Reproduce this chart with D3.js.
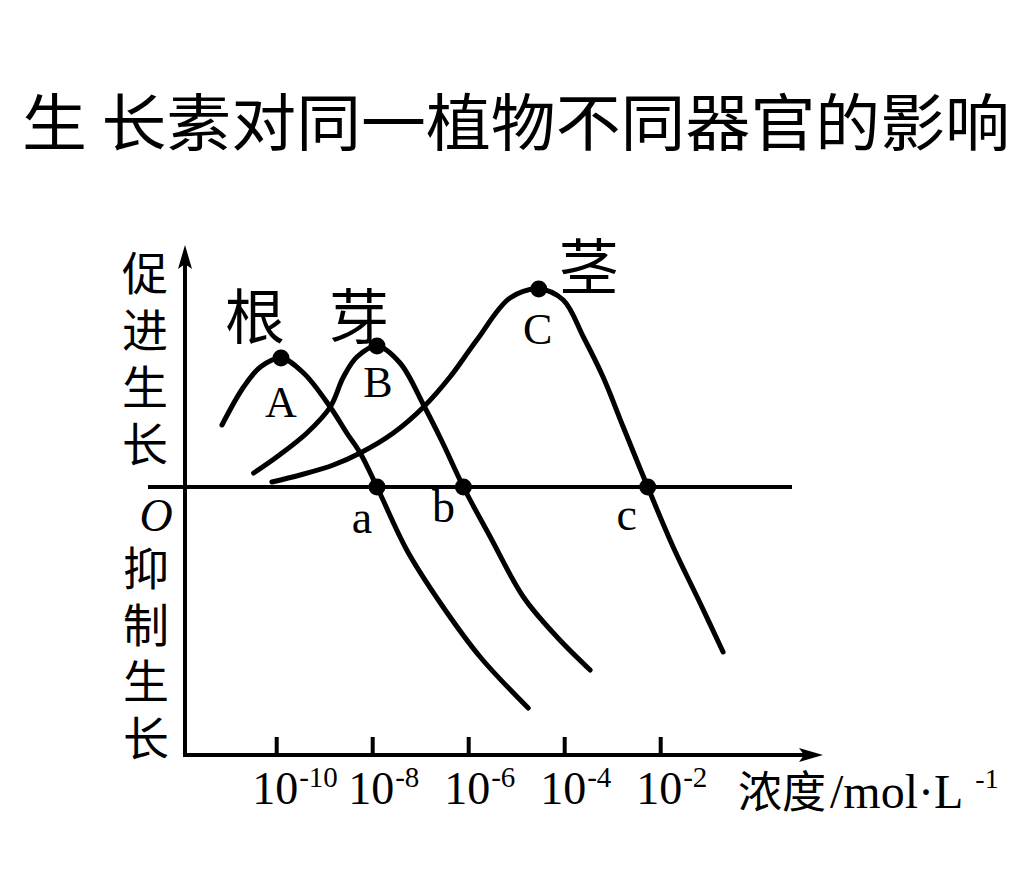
<!DOCTYPE html>
<html><head><meta charset="utf-8">
<script src="https://cdn.jsdelivr.net/npm/d3@7"></script>
<style>
html,body{margin:0;padding:0;background:#fff;}
svg{display:block;}
</style></head>
<body>
<svg id="chart" width="1033" height="892"></svg>
<script>
// ---- data (x = log10 concentration, y = relative effect on growth) ----
const title = "生 长素对同一植物不同器官的影响";
const organs = ["根", "芽", "茎"];
const peakLabels = ["A", "B", "C"];
const zeroLabels = ["a", "b", "c"];
const yLabelTop = ["促", "进", "生", "长"];
const yLabelBottom = ["抑", "制", "生", "长"];
const tickExponents = [-10, -8, -6, -4, -2];
const tickBase = "10";
const xAxisLabel = "浓度";
const xAxisUnit = "/mol·L";
const xAxisUnitExp = "-1";
const originLabel = "O";

const rootX = [-11.13, -10.68, -10.33, -9.90, -9.43, -8.875, -8.53, -8.25, -7.90, -7.28, -6.58, -5.75, -4.75];
const rootY = [62, 100, 120, 129, 114, 80, 54, 34, 0, -63, -116, -170, -221];
const budX = [-10.47, -9.99, -9.36, -8.875, -8.60, -8.32, -7.90, -7.42, -6.93, -6.55, -6.10, -5.54, -4.85, -4.15, -3.46];
const budY = [14, 30, 54, 80, 110, 130, 141, 124, 82, 46, 0, -50, -110, -150, -183];
const stemX = [-10.09, -9.50, -8.81, -8.25, -7.56, -6.93, -6.38, -5.82, -5.13, -4.53, -4.02, -3.60, -3.19, -2.77, -2.26, -1.73, -1.17, -0.69];
const stemY = [5, 12, 22, 34, 54, 80, 110, 147, 189, 198, 187, 150, 110, 60, 0, -60, -116, -165];
const peakX = [-9.90, -7.90, -4.53];
const peakY = [129, 141, 198];
const zeroX = [-7.90, -6.10, -2.26];

// ---- layout ----
const svg = d3.select("#chart");
const x = d3.scaleLinear().domain([-11.9, 1]).range([185, 804.2]);
const y = d3.scaleLinear().domain([-268, 242]).range([755, 245]);
const serif = "'Liberation Serif','Times New Roman',serif";
const cjk = "'Noto Sans CJK SC','Noto Sans CJK JP',sans-serif";

// title
svg.append("text")
  .attr("x", 22).attr("y", 146)
  .attr("font-family", cjk).attr("font-size", 62)
  .attr("textLength", 988).attr("lengthAdjust", "spacingAndGlyphs")
  .attr("fill", "#000")
  .text(title);

const x0 = x.range()[0];
const yBottom = y.range()[0];

// zero line
svg.append("line")
  .attr("x1", x0 - 37).attr("x2", 792)
  .attr("y1", y(0)).attr("y2", y(0))
  .attr("stroke", "#000").attr("stroke-width", 4);

// y axis with arrow
svg.append("line")
  .attr("x1", x0).attr("x2", x0)
  .attr("y1", yBottom + 2).attr("y2", y.range()[1] + 10)
  .attr("stroke", "#000").attr("stroke-width", 4);
const yt = y.range()[1];
svg.append("path")
  .attr("d", `M${x0},${yt} L${x0 - 7},${yt + 24} L${x0},${yt + 19} L${x0 + 7},${yt + 24} Z`)
  .attr("fill", "#000");

// x axis with arrow
const xt = 823;
svg.append("line")
  .attr("x1", x0 - 2).attr("x2", xt - 10)
  .attr("y1", yBottom).attr("y2", yBottom)
  .attr("stroke", "#000").attr("stroke-width", 4);
svg.append("path")
  .attr("d", `M${xt},${yBottom} L${xt - 24},${yBottom - 7} L${xt - 19},${yBottom} L${xt - 24},${yBottom + 7} Z`)
  .attr("fill", "#000");

// ticks (pointing up)
const axis = d3.axisBottom(x).tickValues(tickExponents).tickSize(-18).tickFormat("");
const gAx = svg.append("g").attr("transform", `translate(0,${yBottom})`).call(axis);
gAx.select(".domain").remove();
gAx.selectAll(".tick line").attr("stroke", "#000").attr("stroke-width", 4);

// tick labels 10^n
tickExponents.forEach(e => {
  const t = svg.append("text")
    .attr("x", x(e) - 24).attr("y", 804)
    .attr("font-family", serif).attr("font-size", 46).attr("fill", "#000");
  t.append("tspan").text(tickBase);
  t.append("tspan").attr("dy", -17).attr("dx", 1).attr("font-size", 29).text(String(e));
});

// x axis label
const xl = svg.append("text").attr("x", 738).attr("y", 808).attr("fill", "#000");
xl.append("tspan").attr("font-family", cjk).attr("font-size", 44).text(xAxisLabel);
xl.append("tspan").attr("font-family", serif).attr("font-size", 48).attr("dx", 4).text(xAxisUnit);
xl.append("tspan").attr("font-family", serif).attr("font-size", 28).attr("dx", 12).attr("dy", -20).text(xAxisUnitExp);

// y axis labels (vertical columns)
svg.append("text")
  .attr("x", 145).attr("y", 250)
  .style("writing-mode", "vertical-rl")
  .attr("letter-spacing", 11)
  .attr("font-family", cjk).attr("font-size", 46).attr("fill", "#000")
  .text(yLabelTop.join(""));
svg.append("text")
  .attr("x", 146).attr("y", 545)
  .style("writing-mode", "vertical-rl")
  .attr("letter-spacing", 10.5)
  .attr("font-family", cjk).attr("font-size", 46).attr("fill", "#000")
  .text(yLabelBottom.join(""));
svg.append("text")
  .attr("x", 156).attr("y", 531)
  .attr("text-anchor", "middle")
  .attr("font-family", serif).attr("font-style", "italic").attr("font-size", 46)
  .attr("fill", "#000").text(originLabel);

// curves
const line = d3.line().x(d => x(d[0])).y(d => y(d[1])).curve(d3.curveCatmullRom.alpha(0.5));
const series = [d3.zip(rootX, rootY), d3.zip(budX, budY), d3.zip(stemX, stemY)];
svg.selectAll("path.curve").data(series).join("path")
  .attr("class", "curve")
  .attr("d", line)
  .attr("fill", "none").attr("stroke", "#000").attr("stroke-width", 5)
  .attr("stroke-linecap", "round").attr("stroke-linejoin", "round");

// dots
const peaks = d3.zip(peakX, peakY);
svg.selectAll("circle.peak").data(peaks).join("circle")
  .attr("class", "peak")
  .attr("cx", d => x(d[0])).attr("cy", d => y(d[1])).attr("r", 8.5).attr("fill", "#000");
svg.selectAll("circle.zero").data(zeroX).join("circle")
  .attr("class", "zero")
  .attr("cx", d => x(d)).attr("cy", y(0)).attr("r", 8.5).attr("fill", "#000");

// peak labels
const peakOff = [[0, 59], [1, 51], [-1, 55]];
peaks.forEach((p, i) => {
  svg.append("text")
    .attr("x", x(p[0]) + peakOff[i][0]).attr("y", y(p[1]) + peakOff[i][1])
    .attr("text-anchor", "middle")
    .attr("font-family", serif).attr("font-size", 44).attr("fill", "#000")
    .text(peakLabels[i]);
});
const zeroOff = [[-15, 46], [-20, 35], [-21, 43]];
zeroX.forEach((zx, i) => {
  svg.append("text")
    .attr("x", x(zx) + zeroOff[i][0]).attr("y", y(0) + zeroOff[i][1])
    .attr("text-anchor", "middle")
    .attr("font-family", serif).attr("font-size", 46).attr("fill", "#000")
    .text(zeroLabels[i]);
});
// organ names
const organOff = [[-26, -46], [-18, -34], [50, -27]];
peaks.forEach((p, i) => {
  svg.append("text")
    .attr("x", x(p[0]) + organOff[i][0]).attr("y", y(p[1]) + organOff[i][1])
    .attr("text-anchor", "middle").attr("dominant-baseline", "central")
    .attr("font-family", cjk).attr("font-size", 60).attr("fill", "#000")
    .text(organs[i]);
});
</script>
</body></html>
